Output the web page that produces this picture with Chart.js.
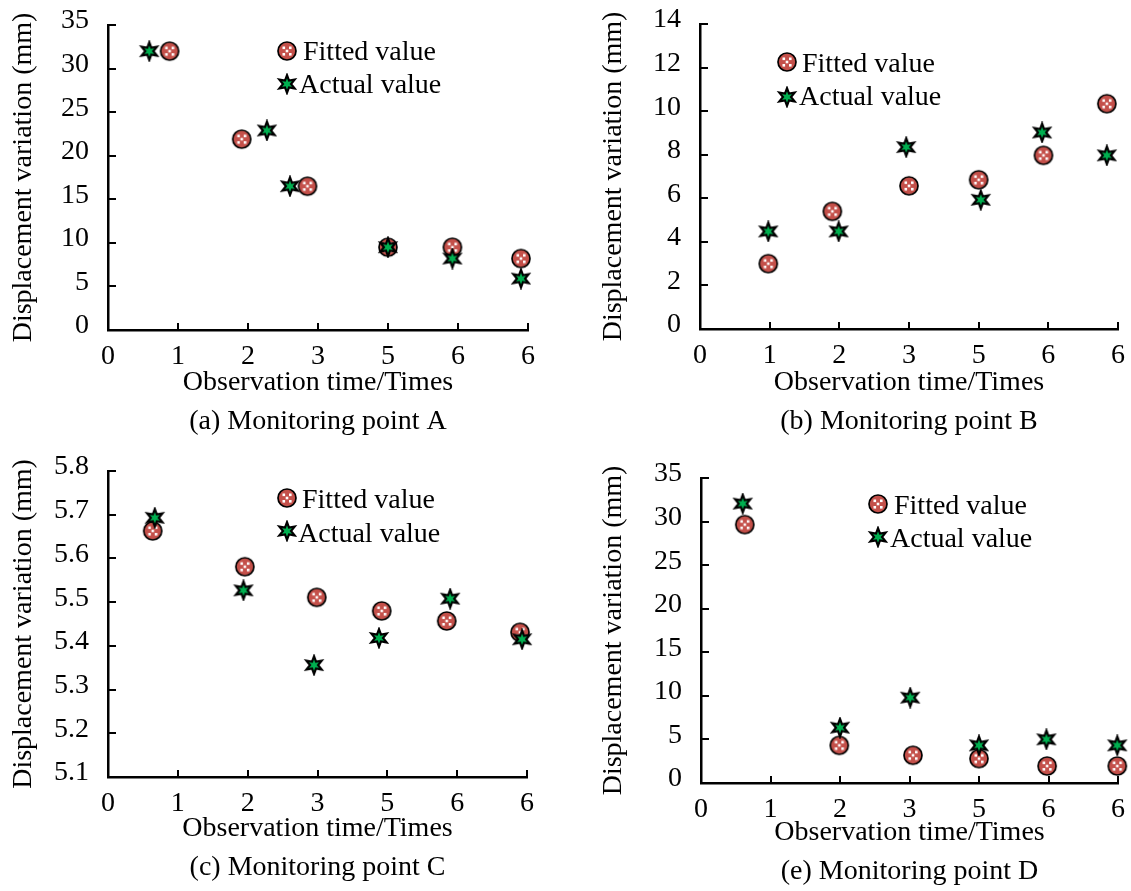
<!DOCTYPE html>
<html>
<head>
<meta charset="utf-8">
<title>Monitoring points</title>
<script src="https://cdn.jsdelivr.net/npm/chart.js@4.4.1/dist/chart.umd.min.js"></script>
<style>
  body { margin: 0; background: #fff; }
  .panel { position: absolute; }
</style>
</head>
<body>
<div class="panel" style="left:0px;top:0px"><canvas id="chartA" width="565" height="445"></canvas></div>
<div class="panel" style="left:565px;top:0px"><canvas id="chartB" width="566" height="445"></canvas></div>
<div class="panel" style="left:0px;top:445px"><canvas id="chartC" width="565" height="446"></canvas></div>
<div class="panel" style="left:565px;top:445px"><canvas id="chartD" width="566" height="446"></canvas></div>
<script>
// tick labels of the x axis (positions 0..6)
const xTickLabels = ["0", "1", "2", "3", "5", "6", "6"];
const seriesNames = ["Fitted value", "Actual value"];
const captions = [
  "(a) Monitoring point A",
  "(b) Monitoring point B",
  "(c) Monitoring point C",
  "(e) Monitoring point D",
];

// monitoring point A
const fittedA_x = [0.88, 1.91, 2.85, 4.0, 4.92, 5.9];
const fittedA_y = [32.0, 21.9, 16.5, 9.5, 9.5, 8.2];
const actualA_x = [0.59, 2.27, 2.6, 4.0, 4.92, 5.9];
const actualA_y = [32.0, 22.9, 16.5, 9.5, 8.2, 5.9];

// monitoring point B
const fittedB_x = [0.98, 1.9, 3.0, 4.0, 4.93, 5.84];
const fittedB_y = [3.0, 5.4, 6.57, 6.85, 7.97, 10.34];
const actualB_x = [0.98, 1.99, 2.96, 4.03, 4.91, 5.84];
const actualB_y = [4.48, 4.48, 8.35, 5.93, 9.02, 7.97];

// monitoring point C
const fittedC_x = [0.64, 1.96, 2.99, 3.92, 4.85, 5.9];
const fittedC_y = [5.663, 5.581, 5.511, 5.48, 5.457, 5.431];
const actualC_x = [0.67, 1.94, 2.95, 3.88, 4.9, 5.93];
const actualC_y = [5.693, 5.527, 5.356, 5.418, 5.508, 5.415];

// monitoring point D
const fittedD_x = [0.63, 1.99, 3.05, 4.0, 4.98, 5.99];
const fittedD_y = [29.65, 4.32, 3.18, 2.8, 1.95, 1.95];
const actualD_x = [0.6, 2.0, 3.01, 4.0, 4.97, 5.99];
const actualD_y = [32.06, 6.35, 9.79, 4.32, 5.01, 4.32];

const FONT = '"Liberation Serif", "Times New Roman", serif';

// marker images
function makeCircle() {
  const c = document.createElement("canvas");
  c.width = 22; c.height = 22;
  const g = c.getContext("2d");
  g.beginPath();
  g.arc(11, 11, 9, 0, Math.PI * 2);
  g.fillStyle = "#c4504a";
  g.fill();
  g.lineWidth = 1.7;
  g.strokeStyle = "#000";
  g.stroke();
  g.fillStyle = "#fff";
  [[-4.5, -4.5], [2, -4.5], [-4.5, 2], [2, 2], [-1.3, -1.3]].forEach(([dx, dy]) => {
    g.fillRect(11 + dx, 11 + dy, 2.6, 2.6);
  });
  return c;
}
function makeStar() {
  const c = document.createElement("canvas");
  c.width = 22; c.height = 22;
  const g = c.getContext("2d");
  g.beginPath();
  for (let i = 0; i < 12; i++) {
    const r = i % 2 === 0 ? 8.8 : 4;
    const a = -Math.PI / 2 + (i * Math.PI) / 6;
    const px = 11 + r * Math.cos(a);
    const py = 11 + r * Math.sin(a);
    if (i === 0) g.moveTo(px, py); else g.lineTo(px, py);
  }
  g.closePath();
  g.fillStyle = "#00b050";
  g.fill();
  g.lineWidth = 2.2;
  g.lineJoin = "miter";
  g.strokeStyle = "#000";
  g.stroke();
  return c;
}
const circleImg = makeCircle();
const starImg = makeStar();

function toPoints(xs, ys) {
  return xs.map((x, i) => ({ x: x, y: ys[i] }));
}

// legend drawn inside the plot
const innerLegend = {
  id: "innerLegend",
  afterDatasetsDraw(chart, args, opts) {
    const ctx = chart.ctx;
    ctx.save();
    ctx.font = "28px " + FONT;
    ctx.fillStyle = "#000";
    ctx.textBaseline = "middle";
    ctx.textAlign = "left";
    chart.data.datasets.forEach((ds, i) => {
      const it = opts.items[i];
      const img = ds.pointStyle;
      ctx.drawImage(img, it.mx - img.width / 2, it.my - img.height / 2);
      ctx.fillText(ds.label, it.tx, it.ty);
    });
    ctx.restore();
  },
};

// short tick marks pointing into the plot
const inwardTicks = {
  id: "inwardTicks",
  afterDatasetsDraw(chart) {
    const { ctx, chartArea, scales } = chart;
    ctx.save();
    ctx.strokeStyle = "#000";
    ctx.lineWidth = 2;
    ctx.beginPath();
    scales.x.ticks.forEach((t) => {
      if (t.value === 0) return;
      const px = Math.round(scales.x.getPixelForValue(t.value));
      ctx.moveTo(px, chartArea.bottom);
      ctx.lineTo(px, chartArea.bottom - 7);
    });
    scales.y.ticks.forEach((t) => {
      const py = Math.round(scales.y.getPixelForValue(t.value));
      ctx.moveTo(chartArea.left, py);
      ctx.lineTo(chartArea.left + 8, py);
    });
    ctx.stroke();
    ctx.restore();
  },
};

const panels = [
  {
    id: "chartA", fx: fittedA_x, fy: fittedA_y, ax: actualA_x, ay: actualA_y,
    yMin: 0, yMax: 35, yStep: 5, dec: 0, caption: captions[0],
    area: { left: 108, top: 25, right: 528, bottom: 330 }, yTitlePad: 7, capPad: 3.5,
    legend: [{ mx: 287, my: 51, tx: 303, ty: 53 }, { mx: 287, my: 84, tx: 299, ty: 86 }],
  },
  {
    id: "chartB", fx: fittedB_x, fy: fittedB_y, ax: actualB_x, ay: actualB_y,
    yMin: 0, yMax: 14, yStep: 2, dec: 0, caption: captions[1],
    area: { left: 135, top: 24, right: 553, bottom: 329 }, yTitlePad: 32, capPad: 3.5,
    legend: [{ mx: 222, my: 62, tx: 237, ty: 65 }, { mx: 222, my: 97, tx: 234, ty: 98 }],
  },
  {
    id: "chartC", fx: fittedC_x, fy: fittedC_y, ax: actualC_x, ay: actualC_y,
    yMin: 5.1, yMax: 5.8, yStep: 0.1, dec: 1, caption: captions[2],
    area: { left: 108, top: 26, right: 527, bottom: 332 }, yTitlePad: 7, capPad: 3.5,
    legend: [{ mx: 287, my: 53, tx: 302, ty: 56 }, { mx: 287, my: 86, tx: 298, ty: 90 }],
  },
  {
    id: "chartD", fx: fittedD_x, fy: fittedD_y, ax: actualD_x, ay: actualD_y,
    yMin: 0, yMax: 35, yStep: 5, dec: 0, caption: captions[3],
    area: { left: 136, top: 33, right: 553, bottom: 338 }, yTitlePad: 32, capPad: 0,
    legend: [{ mx: 313, my: 59, tx: 329, ty: 62 }, { mx: 313, my: 92, tx: 325, ty: 95 }],
  },
];

panels.forEach((p) => {
  const canvas = document.getElementById(p.id);
  const W = canvas.width;
  const H = canvas.height;
  new Chart(canvas.getContext("2d"), {
    type: "scatter",
    data: {
      datasets: [
        {
          label: seriesNames[0],
          data: toPoints(p.fx, p.fy),
          pointStyle: circleImg,
          order: 2,
          clip: false,
        },
        {
          label: seriesNames[1],
          data: toPoints(p.ax, p.ay),
          pointStyle: starImg,
          order: 1,
          clip: false,
        },
      ],
    },
    options: {
      responsive: false,
      animation: false,
      layout: {
        padding: { left: 0, top: p.area.top, right: W - p.area.right, bottom: 0 },
      },
      plugins: {
        legend: { display: false },
        tooltip: { enabled: false },
        innerLegend: { items: p.legend },
      },
      scales: {
        x: {
          type: "linear",
          min: 0,
          max: 6,
          afterFit: (scale) => {
            scale.height = H - p.area.bottom;
            scale.paddingLeft = 0;
            scale.paddingRight = 0;
          },
          grid: { drawOnChartArea: false, drawTicks: false },
          border: { display: true, color: "#000", width: 2.5 },
          ticks: {
            stepSize: 1,
            padding: 10,
            color: "#000",
            font: { family: FONT, size: 28 },
            callback: (value) => xTickLabels[value],
          },
          title: {
            display: true,
            text: ["Observation time/Times", p.caption],
            color: "#000",
            font: { family: FONT, size: 28, lineHeight: 1.39 },
            padding: { top: 0, bottom: p.capPad },
          },
        },
        y: {
          min: p.yMin,
          max: p.yMax,
          afterFit: (scale) => {
            scale.width = p.area.left;
            scale.paddingTop = 0;
            scale.paddingBottom = 0;
          },
          grid: { drawOnChartArea: false, drawTicks: false },
          border: { display: true, color: "#000", width: 2.5 },
          ticks: {
            stepSize: p.yStep,
            padding: 19,
            labelOffset: -4,
            color: "#000",
            font: { family: FONT, size: 28 },
            callback: (value) => value.toFixed(p.dec),
          },
          title: {
            display: true,
            text: "Displacement variation (mm)",
            color: "#000",
            font: { family: FONT, size: 28, lineHeight: 1.2 },
            padding: { top: p.yTitlePad, bottom: 0 },
          },
        },
      },
    },
    plugins: [inwardTicks, innerLegend],
  });
});
</script>
</body>
</html>
